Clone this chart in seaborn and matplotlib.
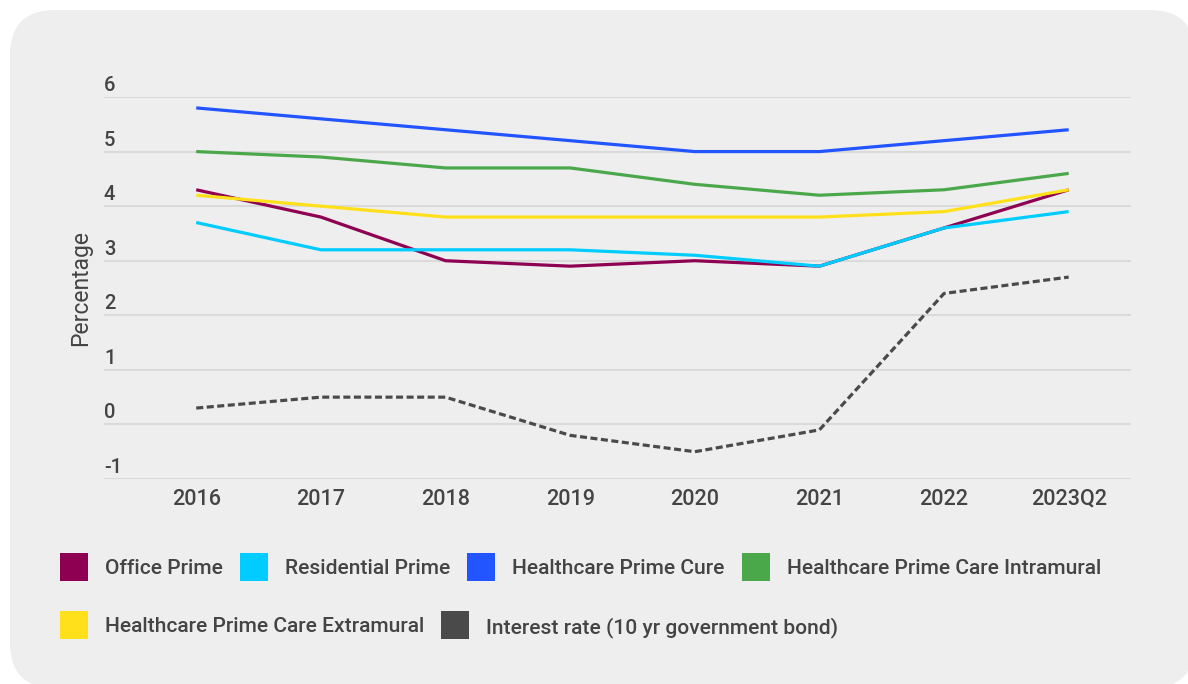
import numpy as np
import pandas as pd
import matplotlib
matplotlib.use("Agg")
import matplotlib.pyplot as plt
import matplotlib.transforms as mtransforms
from matplotlib.patches import FancyBboxPatch, Rectangle
import seaborn as sns

# ---- data -------------------------------------------------------------
periods = ["2016", "2017", "2018", "2019", "2020", "2021", "2022", "2023Q2"]

office_prime = [4.3, 3.8, 3.0, 2.9, 3.0, 2.9, 3.6, 4.3]
residential_prime = [3.7, 3.2, 3.2, 3.2, 3.1, 2.9, 3.6, 3.9]
healthcare_cure = [5.8, 5.6, 5.4, 5.2, 5.0, 5.0, 5.2, 5.4]
healthcare_intramural = [5.0, 4.9, 4.7, 4.7, 4.4, 4.2, 4.3, 4.6]
healthcare_extramural = [4.2, 4.0, 3.8, 3.8, 3.8, 3.8, 3.9, 4.3]
interest_rate = [0.3, 0.5, 0.5, -0.2, -0.5, -0.1, 2.4, 2.7]

series_names = [
    "Office Prime",
    "Residential Prime",
    "Healthcare Prime Cure",
    "Healthcare Prime Care Intramural",
    "Healthcare Prime Care Extramural",
    "Interest rate (10 yr government bond)",
]
series_values = [office_prime, residential_prime, healthcare_cure,
                 healthcare_intramural, healthcare_extramural, interest_rate]

y_ticks = [-1, 0, 1, 2, 3, 4, 5, 6]

# ---- styling ----------------------------------------------------------
colors = {
    "Office Prime": "#8e0052",
    "Residential Prime": "#00ccff",
    "Healthcare Prime Cure": "#2255ff",
    "Healthcare Prime Care Intramural": "#4aa84a",
    "Healthcare Prime Care Extramural": "#ffe01a",
    "Interest rate (10 yr government bond)": "#4a4a4a",
}
dashes = {name: "" for name in series_names}
dashes["Interest rate (10 yr government bond)"] = (2.2, 1.1)

TEXT = "#444444"
GRID = "#dadada"
PANEL = "#eeeeee"
W, H = 1188, 684

sns.set_theme(style="white")
plt.rcParams["font.family"] = ["Roboto", "DejaVu Sans"]
plt.rcParams["font.weight"] = "medium"
plt.rcParams["lines.solid_capstyle"] = "butt"
plt.rcParams["lines.dash_capstyle"] = "butt"

df = pd.DataFrame(
    [(p, name, v) for name, vals in zip(series_names, series_values)
     for p, v in zip(periods, vals)],
    columns=["period", "series", "value"],
)

fig = plt.figure(figsize=(W / 100, H / 100), dpi=100)
fig.patch.set_facecolor("white")

# rounded light-grey card behind everything
card = FancyBboxPatch((0.10, -0.04), 11.85, 6.78,
                      boxstyle="round,pad=0,rounding_size=0.45",
                      transform=fig.dpi_scale_trans,
                      facecolor=PANEL, edgecolor="none", zorder=-5)
fig.patches.append(card)

def px(x, y):
    """top-left pixel position -> figure fraction"""
    return x / W, 1 - y / H

left, top = px(104, 97)
right, bottom = px(1131, 479)
ax = fig.add_axes([left, bottom, right - left, top - bottom])
ax.set_facecolor("none")

sns.lineplot(data=df, x="period", y="value", hue="series", style="series",
             palette=colors, dashes=dashes, linewidth=2.3, sort=False,
             legend=False, ax=ax, zorder=3)

ax.set_xlim(-0.74, 7.5)
ax.set_ylim(-1, 6)
ax.set_yticks(y_ticks)
ax.set_yticklabels([])
ax.grid(axis="y", color=GRID, linewidth=1.5, zorder=1)
ax.grid(axis="x", visible=False)
for s in ax.spines.values():
    s.set_visible(False)

ax.tick_params(axis="x", length=0, pad=7, labelsize=15.5, labelcolor=TEXT)
ax.tick_params(axis="y", length=0)
ax.set_xlabel("")

# y tick labels sit just above their gridline, left-aligned
lab_tr = mtransforms.offset_copy(ax.get_yaxis_transform(), fig=fig, x=0, y=6, units="dots")
for v in y_ticks:
    ax.text(0, v, f"{v}", transform=lab_tr, ha="left", va="baseline",
            fontsize=14.5, color=TEXT)

ax.set_ylabel("Percentage", fontsize=16.5, color=TEXT, fontweight="normal")
ax.yaxis.set_label_coords(-0.012, 0.5)

# ---- legend laid out as a wrapping row of swatches --------------------
rows = [series_names[:4], series_names[4:]]
row_y = [567, 625]
sq = 28
fig.canvas.draw()
renderer = fig.canvas.get_renderer()
for names, yc in zip(rows, row_y):
    x = 60
    for name in names:
        fig.patches.append(Rectangle(px(x, yc + sq / 2), sq / W, sq / H,
                                     transform=fig.transFigure,
                                     facecolor=colors[name], edgecolor="none"))
        tx = x + 45
        t = fig.text(*px(tx, yc), name, ha="left", va="center_baseline",
                     fontsize=15.1, color=TEXT)
        bb = t.get_window_extent(renderer=renderer)
        x = tx + bb.width + 17

fig.savefig("out.png", dpi=100, facecolor=fig.get_facecolor())
